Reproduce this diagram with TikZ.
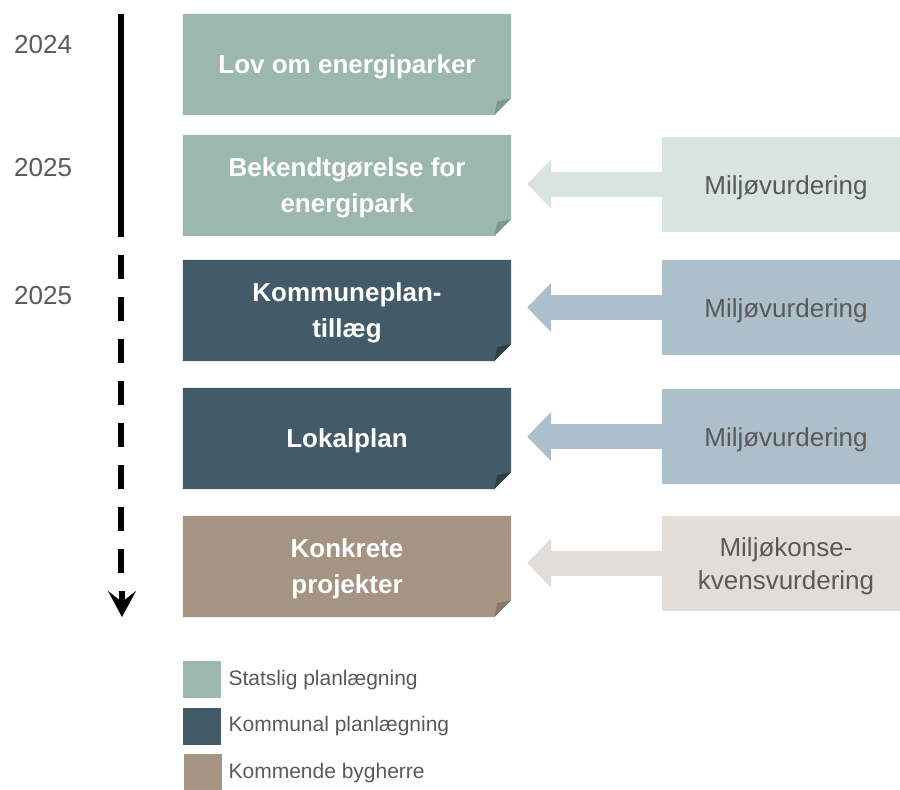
\documentclass[tikz,border=0pt]{standalone}
\usepackage{fontspec}
\setmainfont{Liberation Sans}
\usetikzlibrary{arrows.meta,backgrounds,calc}
\definecolor{stat}{HTML}{9CB8AE}
\definecolor{statfold}{HTML}{7E988F}
\definecolor{statlight}{HTML}{D9E3E0}
\definecolor{komm}{HTML}{435A69}
\definecolor{kommfold}{HTML}{2F404B}
\definecolor{kommlight}{HTML}{ADBFCB}
\definecolor{byg}{HTML}{A69483}
\definecolor{bygfold}{HTML}{87786B}
\definecolor{byglight}{HTML}{E3DDD7}
\definecolor{txtgray}{HTML}{595959}
\newcommand\foldbox[3]{%
  \begin{scope}[on background layer]
    \fill[#2] (#1.north west) -- (#1.north east) -- ($(#1.south east)+(0pt,17pt)$)
      -- ($(#1.south east)+(-17pt,0pt)$) -- (#1.south west) -- cycle;
    \fill[#3] ($(#1.south east)+(-17pt,0pt)$) .. controls ($(#1.south east)+(-15pt,7pt)$) .. ($(#1.south east)+(-14pt,14pt)$)
      -- ($(#1.south east)+(0pt,17pt)$) -- cycle;
  \end{scope}}
\begin{document}
\begin{tikzpicture}[x=1pt,y=-1pt,
  mainbox/.style={minimum width=328pt,minimum height=101pt,inner sep=0pt},
  mainlbl/.style={yshift=-2.5pt,inner sep=0pt,align=center,text=white,font=\fontsize{26}{36}\selectfont\bfseries},
  envbox/.style={minimum width=238pt,minimum height=95pt,inner sep=0pt},
  envlbl/.style={xshift=5pt,yshift=-3.5pt,inner sep=0pt,align=center,text=txtgray,font=\fontsize{26}{33}\selectfont},
  yearlbl/.style={anchor=west,text=txtgray,font=\fontsize{26}{30}\selectfont,inner sep=0pt},
  legbox/.style={minimum width=38pt,minimum height=37pt,inner sep=0pt,anchor=north west},
  legtext/.style={anchor=west,text=txtgray,font=\fontsize{21}{24}\selectfont,inner sep=0pt},
  flow/.style={line width=25pt,-{Triangle[length=24pt,width=48pt]}},
  timeline/.style={line width=6pt,black},
]
\useasboundingbox (0,0) rectangle (900,790);

% main boxes
\node[mainbox,label={[mainlbl]center:{Lov om energiparker}}] (lov) at (347,64.5) {};
\foldbox{lov}{stat}{statfold}
\node[mainbox,label={[mainlbl]center:{Bekendtgørelse for\\energipark}}] (bek) at (347,185.5) {};
\foldbox{bek}{stat}{statfold}
\node[mainbox,label={[mainlbl]center:{Kommuneplan-\\tillæg}}] (kp) at (347,310.5) {};
\foldbox{kp}{komm}{kommfold}
\node[mainbox,label={[mainlbl]center:{Lokalplan}}] (lp) at (347,438.5) {};
\foldbox{lp}{komm}{kommfold}
\node[mainbox,label={[mainlbl]center:{Konkrete\\projekter}}] (kon) at (347,566.5) {};
\foldbox{kon}{byg}{bygfold}

% environmental assessment boxes
\node[envbox,fill=statlight,label={[envlbl]center:{Miljøvurdering}}] (m1) at (781,184) {};
\node[envbox,fill=kommlight,label={[envlbl]center:{Miljøvurdering}}] (m2) at (781,307.5) {};
\node[envbox,fill=kommlight,label={[envlbl]center:{Miljøvurdering}}] (m3) at (781,436.5) {};
\node[envbox,fill=byglight,label={[envlbl]center:{Miljøkonse-\\kvensvurdering}}] (m4) at (781,563) {};

% arrows
\draw[flow,statlight] (m1.west) -- ($(bek.east |- m1.west)+(16pt,0pt)$);
\draw[flow,kommlight] (m2.west) -- ($(kp.east |- m2.west)+(16pt,0pt)$);
\draw[flow,kommlight] (m3.west) -- ($(lp.east |- m3.west)+(16pt,0pt)$);
\draw[flow,byglight] (m4.west) -- ($(kon.east |- m4.west)+(16pt,0pt)$);

% years
\node[yearlbl] (y1) at (14,45) {2024};
\node[yearlbl] (y2) at (14,168) {2025};
\node[yearlbl] (y3) at (14,296) {2025};

% timeline
\coordinate (t0) at (121,14);
\coordinate (t1) at (121,237);
\coordinate (t2) at (121,255);
\coordinate (t3) at (121,573);
\coordinate (t4) at (122,591);
\coordinate (t5) at (122,617);
\draw[timeline] (t0) -- (t1);
\draw[timeline,dash pattern=on 24pt off 18pt] (t2) -- (t3);
\draw[timeline,-{Stealth[length=26pt,width=28pt,inset=11pt]}] (t4) -- (t5);

% legend
\node[legbox,fill=stat] (l1) at (183,661) {};
\node[legtext] (l1t) at ($(l1.east)+(7pt,0pt)$) {Statslig planlægning};
\node[legbox,fill=komm] (l2) at (183,707.5) {};
\node[legtext] (l2t) at ($(l2.east)+(7pt,0pt)$) {Kommunal planlægning};
\node[legbox,fill=byg] (l3) at (184,754) {};
\node[legtext] (l3t) at ($(l3.east)+(6pt,0pt)$) {Kommende bygherre};
\end{tikzpicture}
\end{document}
